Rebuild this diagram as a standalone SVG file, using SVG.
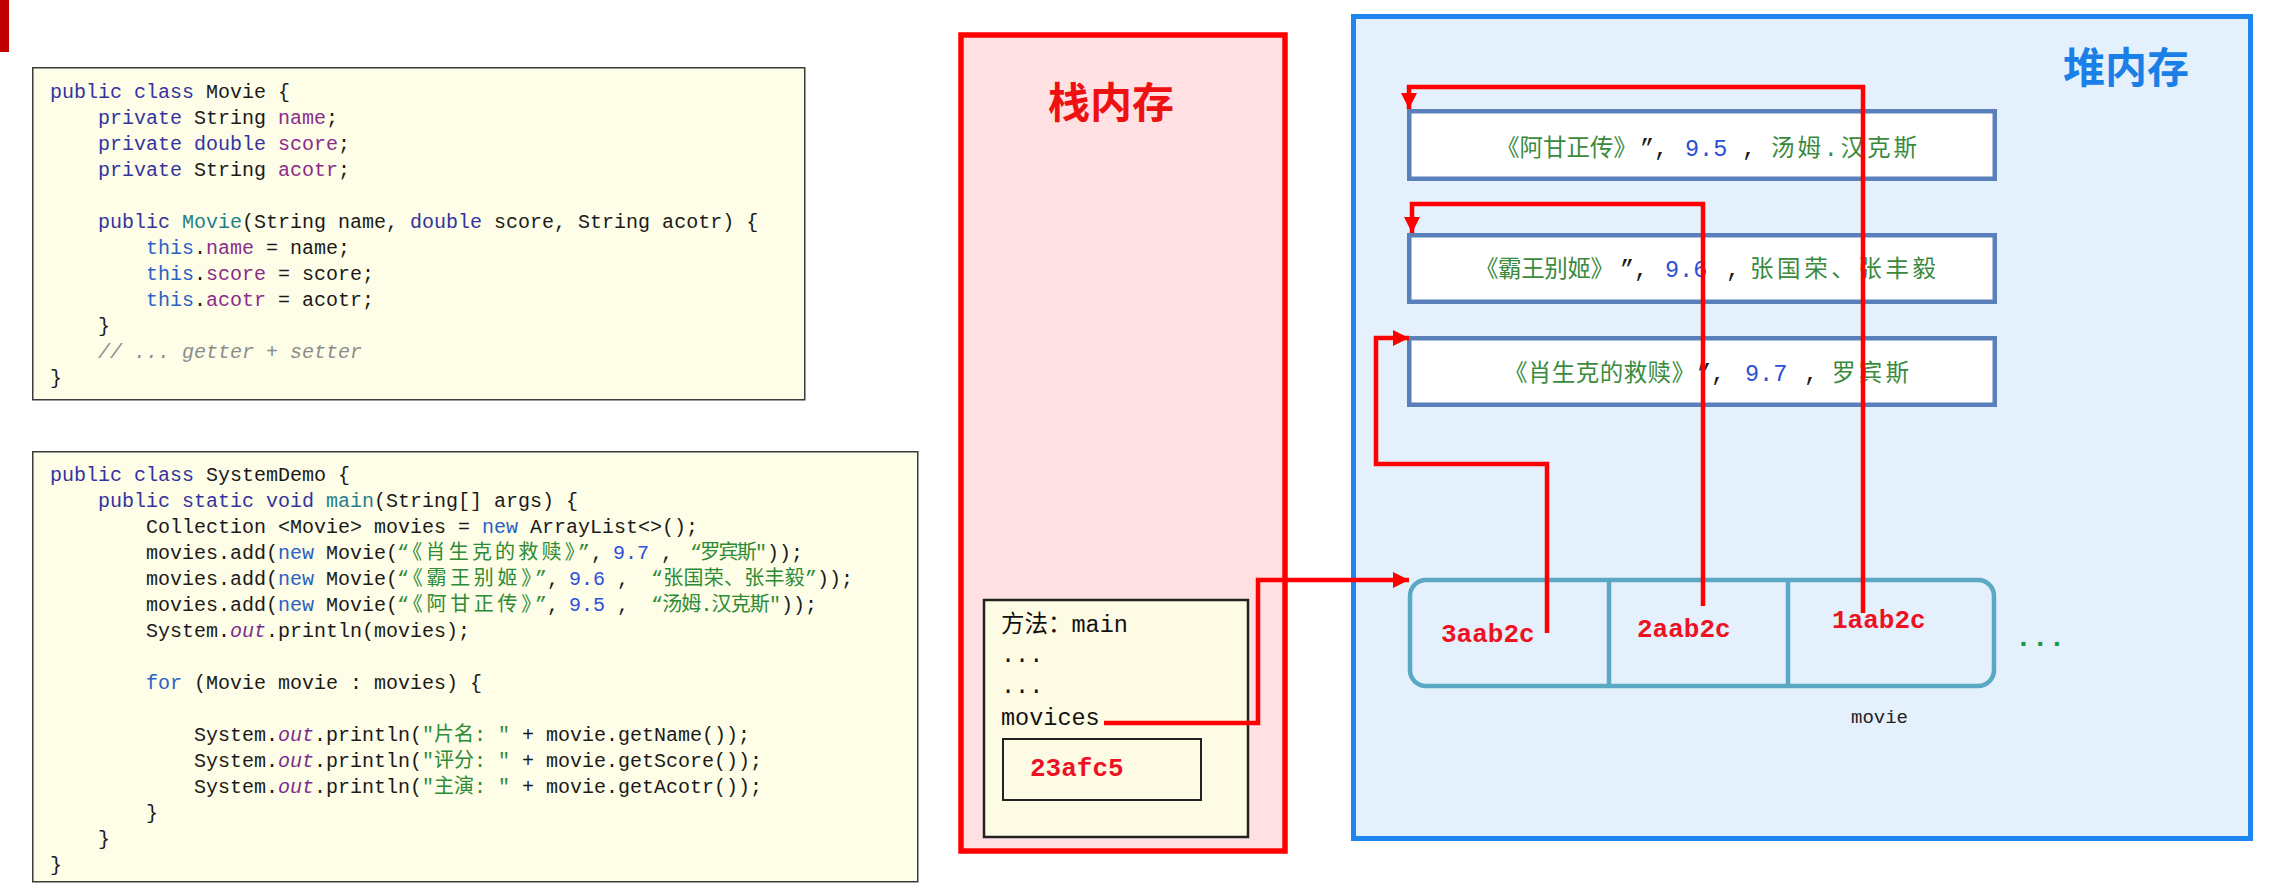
<svg xmlns="http://www.w3.org/2000/svg" width="2275" height="888" viewBox="0 0 2275 888">
<style>
text{white-space:pre}
.code{font-family:"Liberation Mono","Noto Sans CJK SC",monospace;font-size:20px;fill:#1a1a1a}
.kw{fill:#34349e}
.kb{fill:#2a62c4}
.fd{fill:#8b2c8b}
.fn{fill:#23808c}
.ot{fill:#7b2d8e;font-style:italic}
.st{fill:#2e8b35}
.nm{fill:#2f4fdc}
.cm{fill:#8c8c8c;font-style:italic}
.codebox{fill:#fdfde8;stroke:#3a3a3a;stroke-width:1.5}
.mbox{fill:#ffffff;stroke:#5a80bb;stroke-width:4.5}
.ht{font-family:"Liberation Mono","Noto Sans CJK SC",monospace;font-size:23.5px;fill:#1a1a1a}
.hg{fill:#3a8a3e}
.hb{fill:#2b4fd4}
.addr{font-family:"Liberation Mono",monospace;font-size:26px;font-weight:bold;fill:#ee1122}
.title{font-family:"Noto Sans CJK SC",sans-serif;font-size:42px;font-weight:bold}
.stk{font-family:"Liberation Mono","Noto Sans CJK SC",monospace;font-size:23.5px;fill:#111}
.conn{fill:none;stroke:#ff0000;stroke-width:4.5;stroke-linejoin:miter}
</style>
<defs>
<marker id="ah" viewBox="0 0 16 16" markerWidth="16" markerHeight="16" refX="16" refY="8" orient="auto" markerUnits="userSpaceOnUse">
<path d="M0,0 L16,8 L0,16 z" fill="#ff0000"/>
</marker>
</defs>
<rect x="0" y="0" width="2275" height="888" fill="#ffffff"/>
<rect x="0" y="0" width="9" height="52" fill="#c00000"/>

<g id="code-movie">
<rect class="codebox" x="32.75" y="67.75" width="772" height="332"/>
<text class="code" x="50" y="98"><tspan class="kw">public class</tspan> Movie {</text>
<text class="code" x="98" y="124"><tspan class="kw">private</tspan> String <tspan class="fd">name</tspan>;</text>
<text class="code" x="98" y="150"><tspan class="kw">private double</tspan> <tspan class="fd">score</tspan>;</text>
<text class="code" x="98" y="176"><tspan class="kw">private</tspan> String <tspan class="fd">acotr</tspan>;</text>
<text class="code" x="98" y="228"><tspan class="kw">public</tspan> <tspan class="fn">Movie</tspan>(String name, <tspan class="kw">double</tspan> score, String acotr) {</text>
<text class="code" x="146" y="254"><tspan class="kb">this</tspan>.<tspan class="fd">name</tspan> = name;</text>
<text class="code" x="146" y="280"><tspan class="kb">this</tspan>.<tspan class="fd">score</tspan> = score;</text>
<text class="code" x="146" y="306"><tspan class="kb">this</tspan>.<tspan class="fd">acotr</tspan> = acotr;</text>
<text class="code" x="98" y="332">}</text>
<text class="code cm" x="98" y="358">// ... getter + setter</text>
<text class="code" x="50" y="384">}</text>
</g>

<g id="code-systemdemo">
<rect class="codebox" x="32.75" y="451.75" width="885" height="430"/>
<text class="code" x="50" y="481"><tspan class="kw">public class</tspan> SystemDemo {</text>
<text class="code" x="98" y="507"><tspan class="kw">public static void</tspan> <tspan class="fn">main</tspan>(String[] args) {</text>
<text class="code" x="146" y="533">Collection &lt;Movie&gt; movies = <tspan class="kb">new</tspan> ArrayList&lt;&gt;();</text>
<text class="code" x="146" y="559">movies.add(<tspan class="kb">new</tspan> Movie(<tspan class="st" x="397" textLength="193" lengthAdjust="spacing">“《肖生克的救赎》”</tspan><tspan x="591">, </tspan><tspan class="nm" x="613">9.7</tspan><tspan x="649"> , </tspan><tspan class="st" x="690" textLength="77" lengthAdjust="spacing">“罗宾斯"</tspan><tspan x="767">));</tspan></text>
<text class="code" x="146" y="585">movies.add(<tspan class="kb">new</tspan> Movie(<tspan class="st" x="397" textLength="150" lengthAdjust="spacing">“《霸王别姬》”</tspan><tspan x="547">, </tspan><tspan class="nm" x="569">9.6</tspan><tspan x="605"> , </tspan><tspan class="st" x="651" textLength="166" lengthAdjust="spacing">“张国荣、张丰毅”</tspan><tspan x="817">));</tspan></text>
<text class="code" x="146" y="611">movies.add(<tspan class="kb">new</tspan> Movie(<tspan class="st" x="397" textLength="150" lengthAdjust="spacing">“《阿甘正传》”</tspan><tspan x="547">, </tspan><tspan class="nm" x="569">9.5</tspan><tspan x="605"> , </tspan><tspan class="st" x="651" textLength="130" lengthAdjust="spacing">“汤姆.汉克斯"</tspan><tspan x="781">));</tspan></text>
<text class="code" x="146" y="637">System.<tspan class="ot">out</tspan>.println(movies);</text>
<text class="code" x="146" y="689"><tspan class="kb">for</tspan> (Movie movie : movies) {</text>
<text class="code" x="194" y="741">System.<tspan class="ot">out</tspan>.println(<tspan class="st" x="422" textLength="88" lengthAdjust="spacing">"片名: "</tspan><tspan x="510"> + movie.getName());</tspan></text>
<text class="code" x="194" y="767">System.<tspan class="ot">out</tspan>.println(<tspan class="st" x="422" textLength="88" lengthAdjust="spacing">"评分: "</tspan><tspan x="510"> + movie.getScore());</tspan></text>
<text class="code" x="194" y="793">System.<tspan class="ot">out</tspan>.println(<tspan class="st" x="422" textLength="88" lengthAdjust="spacing">"主演: "</tspan><tspan x="510"> + movie.getAcotr());</tspan></text>
<text class="code" x="146" y="819">}</text>
<text class="code" x="98" y="845">}</text>
<text class="code" x="50" y="871">}</text>
</g>

<g id="stack">
<rect x="961" y="35" width="324" height="816" fill="#ffe1e3" stroke="#ff0000" stroke-width="5.5"/>
<text class="title" x="1048" y="118" fill="#ee1111">栈内存</text>
</g>

<g id="main-frame">
<rect x="984" y="600" width="264" height="237" fill="#fdfbe4" stroke="#222222" stroke-width="2.5"/>
<text class="stk" x="1001" y="632">方法：main</text>
<text class="stk" x="1001" y="662">...</text>
<text class="stk" x="1001" y="693">...</text>
<text class="stk" x="1001" y="725">movices</text>
</g>

<g id="ref-23afc5">
<rect x="1003" y="739" width="198" height="61" fill="#fdfbe4" stroke="#222222" stroke-width="2"/>
<text class="addr" x="1030" y="776">23afc5</text>
</g>

<g id="heap">
<rect x="1353.5" y="16.5" width="897" height="822" fill="#e4f0fc" stroke="#1e86ee" stroke-width="5"/>
<text class="title" x="2063" y="83" fill="#1a80e8">堆内存</text>
</g>

<g id="movie-forrest">
<rect class="mbox" x="1409.25" y="111.25" width="585.5" height="67.5"/>
<text class="ht" y="156"><tspan class="hg" x="1496" textLength="141" lengthAdjust="spacing">《阿甘正传》</tspan><tspan x="1640">”,</tspan><tspan class="hb" x="1685">9.5</tspan><tspan x="1742">,</tspan><tspan class="hg" x="1771" textLength="146" lengthAdjust="spacing">汤姆.汉克斯</tspan></text>
</g>

<g id="movie-farewell">
<rect class="mbox" x="1409.25" y="235.25" width="585.5" height="66.5"/>
<text class="ht" y="277"><tspan class="hg" x="1475" textLength="139" lengthAdjust="spacing">《霸王别姬》</tspan><tspan x="1620">”,</tspan><tspan class="hb" x="1665">9.6</tspan><tspan x="1726">,</tspan><tspan class="hg" x="1750" textLength="186" lengthAdjust="spacing">张国荣、张丰毅</tspan></text>
</g>

<g id="movie-shawshank">
<rect class="mbox" x="1409.25" y="338.25" width="585.5" height="66.5"/>
<text class="ht" y="381"><tspan class="hg" x="1504" textLength="191" lengthAdjust="spacing">《肖生克的救赎》</tspan><tspan x="1697">”,</tspan><tspan class="hb" x="1745">9.7</tspan><tspan x="1804">,</tspan><tspan class="hg" x="1832" textLength="77" lengthAdjust="spacing">罗宾斯</tspan></text>
</g>

<g id="movie-list">
<rect x="1410" y="580" width="584" height="106" rx="16" ry="16" fill="#e4f0fc" stroke="#5aa8c4" stroke-width="4.5"/>
<line x1="1609" y1="580" x2="1609" y2="686" stroke="#5aa8c4" stroke-width="4.5"/>
<line x1="1788" y1="580" x2="1788" y2="686" stroke="#5aa8c4" stroke-width="4.5"/>
<text class="addr" x="1441" y="642">3aab2c</text>
<text class="addr" x="1637" y="637">2aab2c</text>
<text class="addr" x="1832" y="628">1aab2c</text>
<text x="2015" y="646" font-family="Liberation Mono, monospace" font-size="28" font-weight="bold" fill="#1a9a50">...</text>
<text x="1851" y="723" font-family="Liberation Mono, monospace" font-size="19" fill="#222222">movie</text>
</g>

<g id="connectors">
<path class="conn" d="M1104,723 H1258 V580 H1409" marker-end="url(#ah)"/>
<path class="conn" d="M1547,633 V464 H1376 V338 H1409" marker-end="url(#ah)"/>
<path class="conn" d="M1703,606 V204 H1412 V233" marker-end="url(#ah)"/>
<path class="conn" d="M1863,613 V87 H1409 V109" marker-end="url(#ah)"/>
</g>
</svg>
